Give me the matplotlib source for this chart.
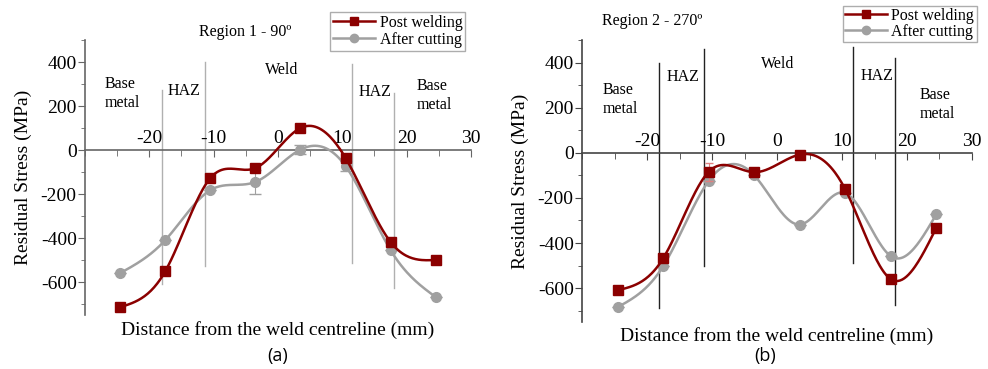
import numpy as np
import matplotlib
matplotlib.use("Agg")
import matplotlib.pyplot as plt
from matplotlib.ticker import MultipleLocator, FixedLocator

plt.rcParams['font.family'] = ['Liberation Serif', 'DejaVu Serif']
plt.rcParams['axes.unicode_minus'] = False

# ---------------- data ----------------
x_pos = [-24.5, -17.5, -10.5, -3.5, 3.5, 10.5, 17.5, 24.5]

r1_post = [-714, -550, -127, -82, 100, -36, -418, -500]
r1_cut = [-559, -409, -182, -145, 2, -73, -455, -668]
r1_cut_err = [0, 0, 0, 55, 22, 22, 0, 0]
r1_post_err = [0, 0, 0, 0, 0, 0, 0, 0]

r2_post = [-609, -467, -84, -86, -8, -162, -560, -333]
r2_cut = [-684, -502, -124, -100, -318, -178, -458, -273]
r2_post_err = [0, 0, 40, 0, 0, 0, 0, 0]
r2_cut_err = [0, 0, 0, 0, 0, 0, 0, 0]

# zone boundary lines: (x, ymin, ymax)
r1_bounds = [(-18.1, -609, 272), (-11.3, -527, 400), (11.5, -514, 390), (18.1, -627, 259)]
r2_bounds = [(-18.2, -689, 400), (-11.2, -502, 462), (11.7, -489, 471), (18.2, -676, 418)]

# zone labels: (x, y, text)
r1_zones = [(-27.0, 258, "Base\nmetal"), (-17.2, 270, "HAZ"), (-2.0, 362, "Weld"),
            (12.5, 265, "HAZ"), (21.5, 250, "Base\nmetal")]
r2_zones = [(-26.8, 238, "Base\nmetal"), (-17.0, 335, "HAZ"), (-2.5, 392, "Weld"),
            (12.8, 342, "HAZ"), (22.0, 215, "Base\nmetal")]

xticks = [-20, -10, 0, 10, 20, 30]
yticks = [-600, -400, -200, 0, 200, 400]

RED = '#8b0000'
GRAY = '#a0a0a0'


def natural_spline(x, y, n=300):
    x = np.asarray(x, float)
    y = np.asarray(y, float)
    k = len(x)
    h = np.diff(x)
    A = np.zeros((k, k))
    b = np.zeros(k)
    A[0, 0] = 1
    A[-1, -1] = 1
    for i in range(1, k - 1):
        A[i, i - 1] = h[i - 1]
        A[i, i] = 2 * (h[i - 1] + h[i])
        A[i, i + 1] = h[i]
        b[i] = 3 * ((y[i + 1] - y[i]) / h[i] - (y[i] - y[i - 1]) / h[i - 1])
    c = np.linalg.solve(A, b)
    xs = np.linspace(x[0], x[-1], n)
    ys = np.empty_like(xs)
    for j, xv in enumerate(xs):
        i = min(np.searchsorted(x, xv, side='right') - 1, k - 2)
        bi = (y[i + 1] - y[i]) / h[i] - h[i] * (2 * c[i] + c[i + 1]) / 3
        di = (c[i + 1] - c[i]) / (3 * h[i])
        t = xv - x[i]
        ys[j] = y[i] + bi * t + c[i] * t ** 2 + di * t ** 3
    return xs, ys


fig = plt.figure(figsize=(9.88, 3.69), dpi=100)
ax1 = fig.add_axes([0.086, 0.1463, 0.3907, 0.7453])
ax2 = fig.add_axes([0.5891, 0.1274, 0.3947, 0.7642])


def style(ax, spine_col, line_col, bounds, zones):
    ax.set_xlim(-30, 30)
    ax.set_ylim(-750, 500)
    for s in ['right', 'bottom']:
        ax.spines[s].set_visible(False)
    ax.spines['top'].set_position(('data', 0))
    ax.spines['top'].set_color(spine_col)
    ax.spines['left'].set_color(spine_col)
    ax.spines['left'].set_linewidth(1.2)
    ax.spines['top'].set_linewidth(1.2)
    ax.xaxis.set_ticks_position('top')
    ax.xaxis.set_label_position('bottom')
    ax.xaxis.set_major_locator(FixedLocator(xticks))
    ax.xaxis.set_minor_locator(MultipleLocator(5))
    ax.yaxis.set_major_locator(FixedLocator(yticks))
    ax.yaxis.set_minor_locator(MultipleLocator(100))
    ax.tick_params(axis='x', which='both', direction='in', color=spine_col,
                   labelsize=14, pad=2)
    ax.tick_params(axis='x', which='major', length=5)
    ax.tick_params(axis='x', which='minor', length=4)
    ax.tick_params(axis='y', which='both', direction='out', color=spine_col,
                   labelsize=14, pad=1)
    ax.tick_params(axis='y', which='major', length=5)
    ax.tick_params(axis='y', which='minor', length=3)
    ax.set_xlabel("Distance from the weld centreline (mm)", fontsize=14, labelpad=4)
    ax.set_ylabel("Residual Stress (MPa)", fontsize=14, labelpad=6)
    for bx, y0, y1 in bounds:
        ax.plot([bx, bx], [y0, y1], color=line_col, lw=1.0, zorder=1)
    for zx, zy, zt in zones:
        ax.text(zx, zy, zt, fontsize=11.5, ha='left', va='center', linespacing=1.25)


def series(ax, post, cut, post_err, cut_err):
    xs, ys = natural_spline(x_pos, cut)
    ax.plot(xs, ys, color=GRAY, lw=1.8, zorder=3)
    ax.errorbar(x_pos, cut, yerr=cut_err, fmt='none', ecolor=GRAY, elinewidth=0.8,
                capsize=4, zorder=3)
    ax.plot(x_pos, cut, 'o', color=GRAY, ms=7, zorder=4)
    xs, ys = natural_spline(x_pos, post)
    ax.plot(xs, ys, color=RED, lw=1.8, zorder=5)
    ax.errorbar(x_pos, post, yerr=post_err, fmt='none', ecolor='#e08080', elinewidth=0.8,
                capsize=3, zorder=5)
    ax.plot(x_pos, post, 's', color=RED, ms=7, zorder=6)
    h1, = ax.plot([], [], '-s', color=RED, ms=6, lw=1.8, label='Post welding')
    h2, = ax.plot([], [], '-o', color=GRAY, ms=6, lw=1.8, label='After cutting')
    return [h1, h2]


style(ax1, '#666666', '#b0b0b0', r1_bounds, r1_zones)
hs = series(ax1, r1_post, r1_cut, r1_post_err, r1_cut_err)
ax1.text(-12.2, 535, "Region 1 - 90º", fontsize=11.5, ha='left', va='center')
leg1 = fig.legend(handles=hs, loc='upper left', bbox_to_anchor=(0.334, 0.968),
                  fontsize=11.5, frameon=True, fancybox=False, edgecolor='#999999',
                  borderpad=0.2, handlelength=2.6, handletextpad=0.3, labelspacing=0.05,
                  borderaxespad=0)

style(ax2, '#444444', '#222222', r2_bounds, r2_zones)
hs = series(ax2, r2_post, r2_cut, r2_post_err, r2_cut_err)
fig.text(0.609, 0.942, "Region 2 - 270º", fontsize=11.5, ha='left', va='center')
leg2 = fig.legend(handles=hs, loc='upper left', bbox_to_anchor=(0.853, 0.985),
                  fontsize=11.5, frameon=True, fancybox=False, edgecolor='#999999',
                  borderpad=0.15, handlelength=2.6, handletextpad=0.3, labelspacing=0.0,
                  borderaxespad=0)

fig.text(0.2815, 0.035, "(a)", fontsize=13, family=['Open Sans', 'DejaVu Sans'],
         ha='center', va='center')
fig.text(0.7745, 0.035, "(b)", fontsize=13, family=['Open Sans', 'DejaVu Sans'],
         ha='center', va='center')

fig.savefig("out.png", dpi=100)
